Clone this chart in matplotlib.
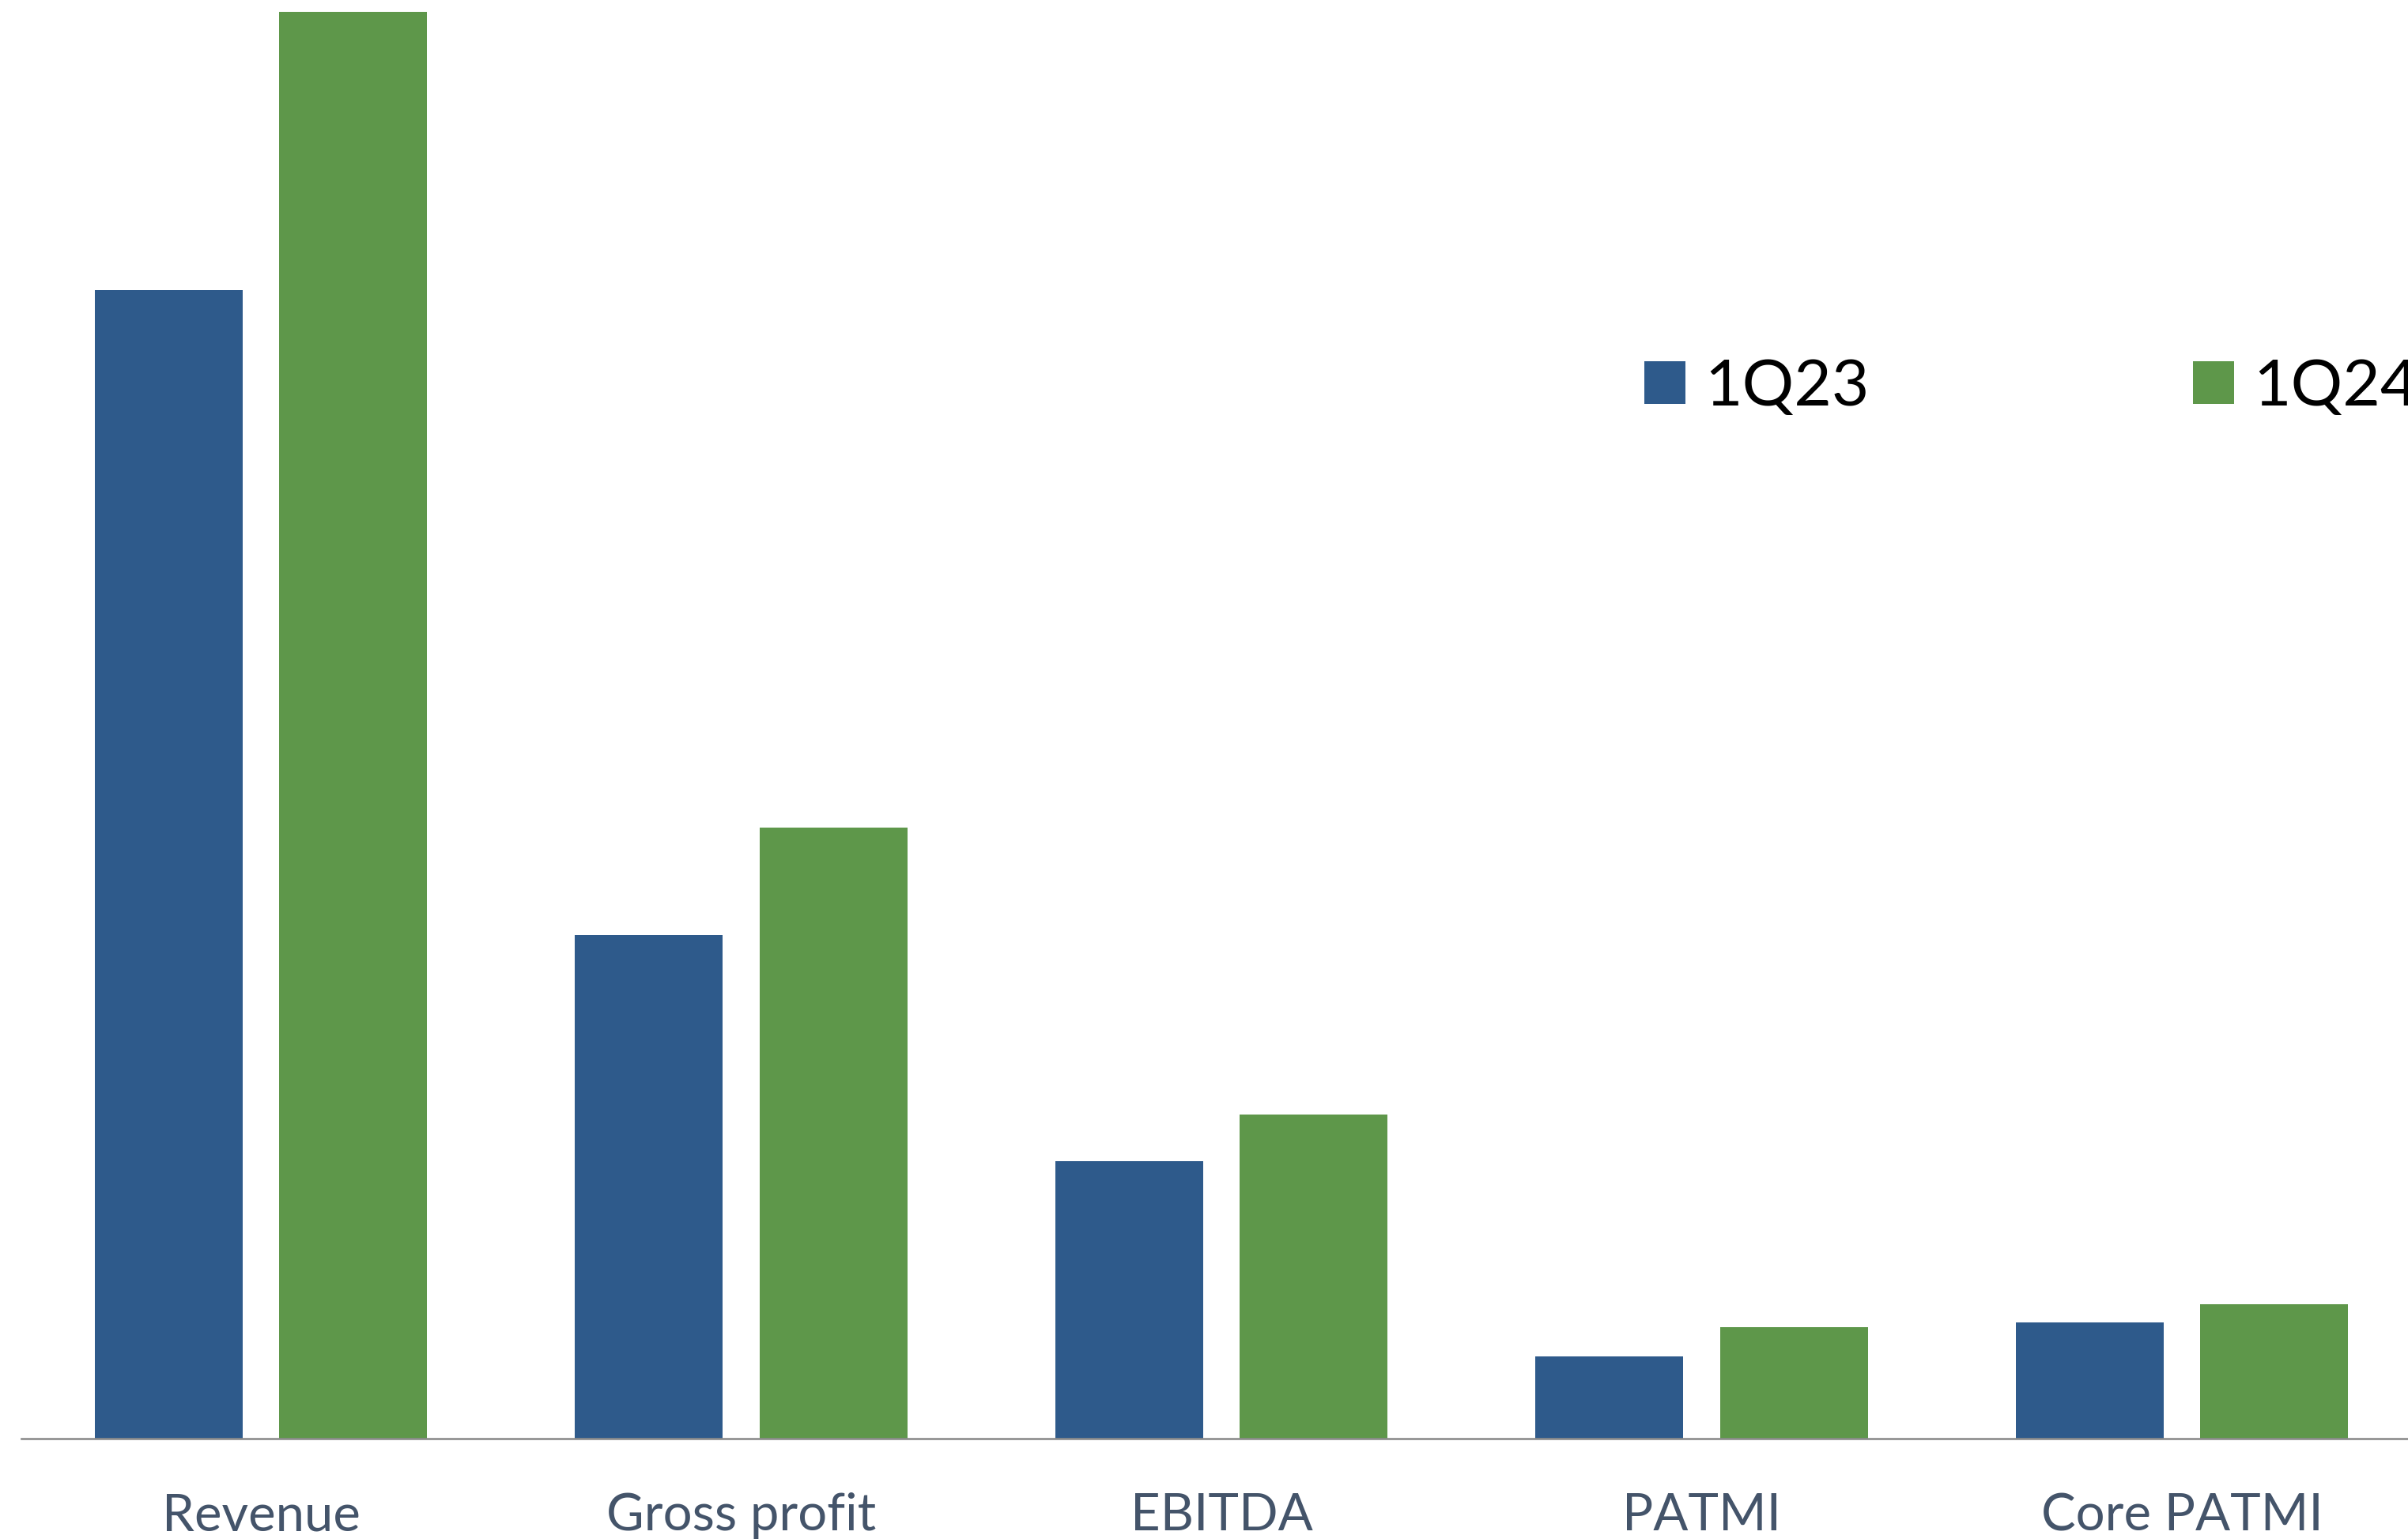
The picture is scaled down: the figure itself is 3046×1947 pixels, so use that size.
import matplotlib
matplotlib.use("Agg")
from matplotlib import pyplot as plt
import numpy as np

# Quarterly results, 1Q23 vs 1Q24
categories = ["Revenue", "Gross profit", "EBITDA", "PATMI", "Core PATMI"]
q1_2023 = [1453, 637, 351, 104, 147]
q1_2024 = [1805, 773, 410, 141, 170]
series_names = ["1Q23", "1Q24"]

blue = "#2E5A8B"
green = "#5E974A"
label_color = "#44546A"

plt.rcParams["font.family"] = ["Lato", "DejaVu Sans"]

fig = plt.figure(figsize=(30.46, 19.47), dpi=100)
ax = fig.add_axes([27 / 3046, 127 / 1947, 1 - 27 / 3046, 1820 / 1947])

x = np.arange(len(categories))
width = 0.308
offset = 0.192
ax.bar(x - offset, q1_2023, width, color=blue, label=series_names[0])
ax.bar(x + offset, q1_2024, width, color=green, label=series_names[1])

ax.set_xlim(-0.4988, 4.4708)
ax.set_ylim(0, 1820)

for side in ["top", "right", "left"]:
    ax.spines[side].set_visible(False)
ax.spines["bottom"].set_color("#8C8C8C")
ax.spines["bottom"].set_linewidth(1.9)

ax.set_yticks([])
ax.set_xticks(x)
ax.set_xticklabels(categories, fontsize=47, color=label_color)
ax.tick_params(axis="x", length=0, pad=49)

# legend sits on the right; the second entry runs off the edge
ax.legend(loc="center left", bbox_to_anchor=(2080 / 3046, 1 - 490 / 1947),
          bbox_transform=fig.transFigure, ncol=2, frameon=False,
          fontsize=59, handlelength=0.63, handleheight=0.63,
          handletextpad=0.3, columnspacing=5.0, borderpad=0,
          borderaxespad=0)

fig.savefig("out.png", dpi=100)
